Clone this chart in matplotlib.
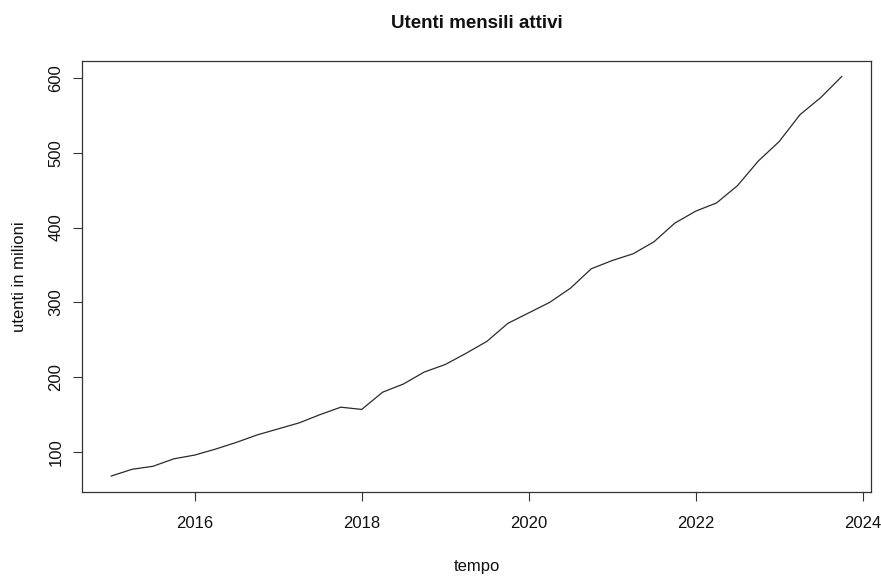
import numpy as np
import matplotlib
matplotlib.use("Agg")
import matplotlib.pyplot as plt

plt.rcParams['font.family'] = ['Liberation Sans', 'DejaVu Sans']

start_year = 2015.0
freq = 4
users = [68, 77, 81, 91,
         96, 104, 113, 123,
         131, 139, 150, 160,
         157, 180, 191, 207,
         217, 232, 248, 272,
         286, 300, 319, 345,
         356, 365, 381, 406,
         422, 433, 456, 489,
         515, 551, 574, 602]
x_ticks = [2016, 2018, 2020, 2022, 2024]
y_ticks = [100, 200, 300, 400, 500, 600]
title = "Utenti mensili attivi"
xlabel = "tempo"
ylabel = "utenti in milioni"

t = start_year + np.arange(len(users)) / freq

W, H = 881, 576
fig = plt.figure(figsize=(W / 100, H / 100), dpi=100)
L, R, T, B = 82, 871, 60.5, 492
ax = fig.add_axes([L / W, 1 - B / H, (R - L) / W, (B - T) / H])

ax.plot(t, users, color='#2a2a2a', linewidth=0.9)

# R-style 4% axis extension
xr = t[-1] - t[0]
ax.set_xlim(t[0] - 0.04 * xr, t[-1] + 0.04 * xr)
yr = max(users) - min(users)
ax.set_ylim(min(users) - 0.04 * yr, max(users) + 0.04 * yr)

ax.set_xticks(x_ticks)
ax.set_yticks(y_ticks)
ax.tick_params(axis='both', direction='out', length=6.8, width=0.8,
               color='#333333', labelsize=12, labelcolor='#111111')
ax.tick_params(axis='x', pad=10.5)
ax.tick_params(axis='y', pad=6.5)
for lab in ax.get_yticklabels():
    lab.set_rotation(90)
    lab.set_va('center')

for s in ax.spines.values():
    s.set_color('#333333')
    s.set_linewidth(0.9)

ax.set_xlabel(xlabel, fontsize=12, color='#111111')
ax.xaxis.set_label_coords(((476.5 - L) / (R - L)), (B - 566.7) / (B - T))
ax.xaxis.label.set_va('center')
ax.set_ylabel(ylabel, fontsize=12, color='#111111')
ax.yaxis.set_label_coords((20 - L) / (R - L), 0.5)
ax.yaxis.label.set_va('center')

fig.text(476.5 / W, 1 - 23.3 / H, title, ha='center', va='center',
         fontsize=13.5, fontweight='bold', color='#111111')

fig.savefig("out.png", dpi=100)
